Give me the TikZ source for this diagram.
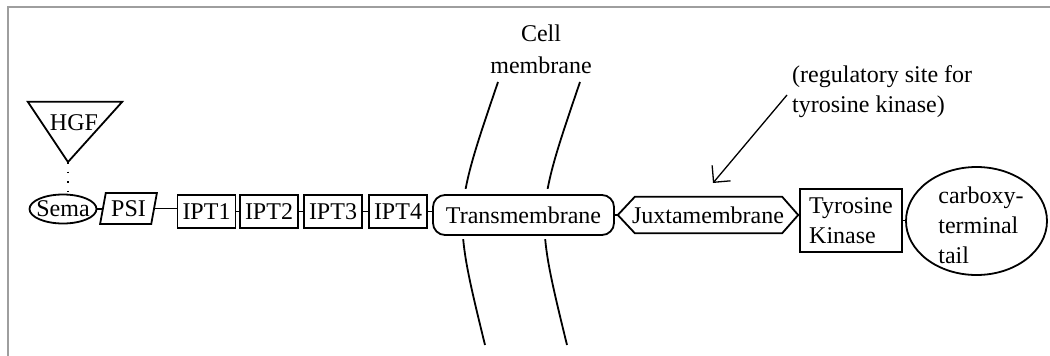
\documentclass[tikz,border=0pt]{standalone}
\usepackage{fontspec}
\setmainfont{Liberation Serif}
\usetikzlibrary{shapes.geometric,arrows.meta}
\begin{document}
\begin{tikzpicture}[x=1pt,y=-1pt,
  every node/.style={font=\fontsize{24}{30}\selectfont, inner sep=0pt},
  line/.style={line width=1.8pt, black},
  ipt/.style={draw, line, rectangle, minimum height=33pt, minimum width=58pt},
]
\useasboundingbox (0,0) rectangle (1050,356);
\draw[line width=2pt, black!38] (7.7,356) -- (7.7,7.3) -- (1050,7.3);

% cell membrane
\draw[line] (498,82) .. controls (453,214) .. (485,345);
\draw[line] (580,82) .. controls (535,214) .. (567,345);
\fill[white] (455,189) rectangle (600,239);
\node[align=center, font=\fontsize{24}{32}\selectfont] (cm) at (541,49) {Cell\\membrane};

% HGF
\node[minimum width=94pt, minimum height=60pt] (hgfbox) at (75,132) {};
\coordinate (apex) at (68,162);
\draw[line] (hgfbox.north west) -- (hgfbox.north east) -- (apex) -- cycle;
\node (hgf) at (74,123) {HGF};

% domains
\node[draw, line, ellipse, minimum width=67pt, minimum height=29pt, label=center:Sema] (sema) at (63,209) {};
\node[draw, line, trapezium, trapezium left angle=75, trapezium right angle=105, trapezium stretches=true, minimum width=57pt, minimum height=31pt] (psi) at (128.5,208.5) {PSI};
\node[ipt] (ipt1) at (206.5,211.5) {IPT1};
\node[ipt] (ipt2) at (269,211.5) {IPT2};
\node[ipt] (ipt3) at (333,211.5) {IPT3};
\node[ipt] (ipt4) at (398,211.5) {IPT4};
\node[draw, line, rounded corners=12pt, minimum width=181pt, minimum height=40pt] (tm) at (523.5,215) {Transmembrane};
\node[minimum width=180pt, minimum height=36pt] (jm) at (708,215) {Juxtamembrane};
\draw[line] (jm.west) -- ([xshift=17pt]jm.north west) -- ([xshift=-16pt]jm.north east) -- (jm.east) -- ([xshift=-16pt]jm.south east) -- ([xshift=17pt]jm.south west) -- cycle;
\node[draw, line, align=left, minimum width=102pt, minimum height=63pt] (tk) at (851,220.5) {Tyrosine\\Kinase};
\node[draw, line, ellipse, minimum width=141pt, minimum height=108pt] (tail) at (976.5,221) {};
\node[align=left] (tailtxt) at (981,225) {carboxy-\\terminal\\tail};

% connectors
\draw[line width=1.6pt, dash pattern=on 1.6pt off 8pt] (apex) -- (apex |- sema.north);
\draw[line] (sema.east) -- (sema.east -| psi.west);
\draw[line] (psi.east) -- (psi.east -| ipt1.west);
\draw[line] (ipt1.east) -- (ipt2.west);
\draw[line] (ipt2.east) -- (ipt3.west);
\draw[line] (ipt3.east) -- (ipt4.west);
\draw[line] (ipt4.east) -- (ipt4.east -| tm.west);
\draw[line] (tm.east) -- (jm.west);
\draw[line] (jm.east) -- (jm.east -| tk.west);
\draw[line] (tk.east) -- (tk.east -| tail.west);

% annotation
\node[align=left, anchor=west] (note) at (792,92) {(regulatory site for\\tyrosine kinase)};
\coordinate (as) at (787,95);
\coordinate (ae) at (713,183);
\draw[line width=1.3pt, -{Straight Barb[length=12pt,width=24pt]}] (as) -- (ae);
\end{tikzpicture}
\end{document}
